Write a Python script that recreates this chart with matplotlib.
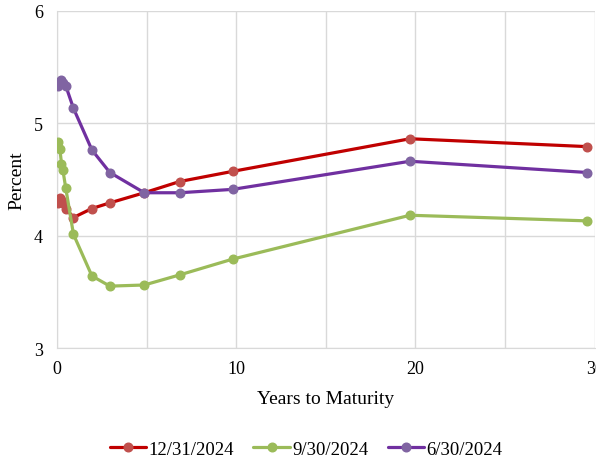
import matplotlib
matplotlib.use("Agg")
import matplotlib.pyplot as plt
from matplotlib.ticker import MultipleLocator

# Years to maturity of each security on the curve
maturity = [0.08, 0.16, 0.25, 0.33, 0.49, 0.92, 1.95, 2.95, 4.87, 6.85, 9.8, 19.7, 29.6]

# Yields, percent
yld_dec = [4.29, 4.33, 4.32, 4.29, 4.24, 4.16, 4.24, 4.29, 4.38, 4.48, 4.57, 4.86, 4.79]
yld_sep = [4.83, 4.77, 4.64, 4.58, 4.42, 4.01, 3.64, 3.55, 3.56, 3.65, 3.79, 4.18, 4.13]
yld_jun = [5.33, 5.36, 5.38, 5.36, 5.33, 5.13, 4.76, 4.56, 4.38, 4.38, 4.41, 4.66, 4.56]

labels = ["12/31/2024", "9/30/2024", "6/30/2024"]
line_colors = ["#C00000", "#9BBB59", "#7030A0"]
marker_colors = ["#C0504D", "#9BBB59", "#8064A2"]

x_ticks = [0, 10, 20, 30]
y_ticks = [3, 4, 5, 6]

plt.rcParams["font.family"] = ["Liberation Serif", "DejaVu Serif"]

fig = plt.figure(figsize=(5.96, 4.64), dpi=100)
ax = fig.add_axes([57 / 596, 1 - 349 / 464, (594.6 - 57) / 596, (349 - 11.5) / 464])

for ys, lab, lc, mc in zip([yld_dec, yld_sep, yld_jun], labels, line_colors, marker_colors):
    ax.plot(maturity, ys, color=lc, lw=2.3, marker="o", ms=6.2,
            markerfacecolor=mc, markeredgecolor=mc, label=lab, zorder=3,
            solid_capstyle="round")

ax.set_xlim(0, 30)
ax.set_ylim(3, 6)
ax.set_xticks(x_ticks)
ax.xaxis.set_minor_locator(MultipleLocator(5))
ax.set_yticks(y_ticks)
ax.grid(True, which="both", axis="x", color="#D9D9D9", lw=1.0)
ax.grid(True, which="major", axis="y", color="#D9D9D9", lw=1.0)
ax.set_axisbelow(True)
for s in ax.spines.values():
    s.set_visible(False)
ax.spines["left"].set_visible(True)
ax.spines["bottom"].set_visible(True)
ax.spines["left"].set_color("#D9D9D9")
ax.spines["bottom"].set_color("#D9D9D9")
ax.tick_params(which="both", length=0, labelsize=13, colors="black")
ax.tick_params(axis="x", pad=9)
ax.tick_params(axis="y", pad=10)

ax.set_xlabel("Years to Maturity", fontsize=14)
ax.xaxis.set_label_coords(0.5, -0.125)
ax.set_ylabel("Percent", fontsize=14)
ax.yaxis.set_label_coords(-0.074, 0.5)
ax.yaxis.label.set_verticalalignment("center")

fig.legend(loc="center", bbox_to_anchor=(306 / 596, 1 - 450 / 464), ncol=3,
           frameon=False, fontsize=13.5, handlelength=1.95, handletextpad=0.1,
           columnspacing=1.05)

fig.savefig("out.png", dpi=100)
